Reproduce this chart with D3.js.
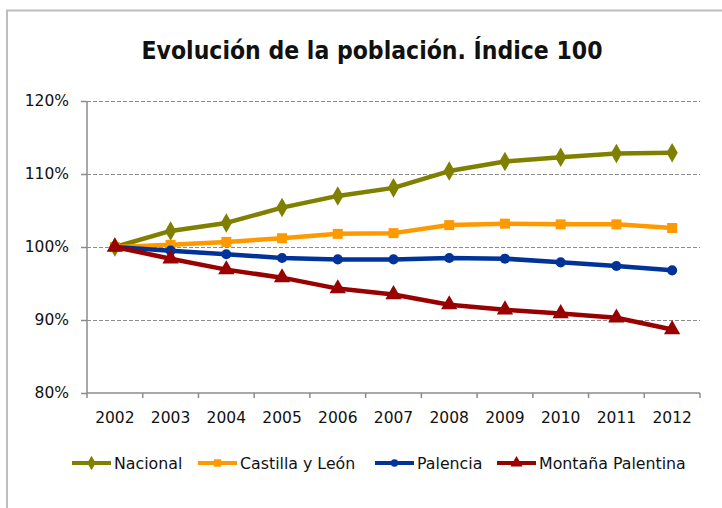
<!DOCTYPE html>
<html>
<head>
<meta charset="utf-8">
<script src="https://cdn.jsdelivr.net/npm/d3@7"></script>
<style>
body { margin:0; background:#fff; }
svg text { font-family: "DejaVu Sans", sans-serif; fill:#111; }
</style>
</head>
<body>
<svg id="chart"></svg>
<script>
var years = ["2002","2003","2004","2005","2006","2007","2008","2009","2010","2011","2012"];
var nacional = [100, 102.2, 103.3, 105.4, 107.0, 108.1, 110.4, 111.7, 112.3, 112.8, 112.9];
var castilla = [100, 100.3, 100.7, 101.2, 101.8, 101.9, 103.0, 103.2, 103.1, 103.1, 102.6];
var palencia = [100, 99.5, 99.0, 98.5, 98.3, 98.3, 98.5, 98.4, 97.9, 97.4, 96.8];
var montana = [100, 98.4, 96.9, 95.8, 94.3, 93.5, 92.1, 91.4, 90.9, 90.3, 88.7];
var yTicks = [80, 90, 100, 110, 120];

var series = [
    {name:"Nacional", values:nacional, color:"#808000", symbol:d3.symbolDiamond, size:110},
    {name:"Castilla y León", values:castilla, color:"#FF9900", symbol:d3.symbolSquare, size:100},
    {name:"Palencia", values:palencia, color:"#003399", symbol:d3.symbolCircle, size:80},
    {name:"Montaña Palentina", values:montana, color:"#990000", symbol:d3.symbolTriangle, size:115}
];

var screen = {width:722, height:508};
var margins = {top:101, left:87, right:22, bottom:115};
var graph = {
    width: screen.width - margins.left - margins.right,
    height: 393 - margins.top
};

var svg = d3.select("#chart")
    .attr("width", screen.width)
    .attr("height", screen.height);

// outer frame
svg.append("rect")
    .attr("x", 7).attr("y", 10.5)
    .attr("width", 730).attr("height", 510)
    .attr("fill", "none")
    .attr("stroke", "#bdbdbd")
    .attr("stroke-width", 2);

svg.append("text")
    .attr("x", 372).attr("y", 59)
    .attr("text-anchor", "middle")
    .style("font-family", "'DejaVu Sans Condensed', 'DejaVu Sans', sans-serif")
    .style("font-size", "24.5px")
    .style("font-weight", "bold")
    .text("Evolución de la población. Índice 100");

var xBand = d3.scaleBand()
    .domain(years)
    .range([0, graph.width]);

var y = d3.scaleLinear()
    .domain([80, 120])
    .range([graph.height, 0]);

var g = svg.append("g")
    .attr("transform", "translate(" + margins.left + "," + margins.top + ")");

// gridlines
g.append("g")
    .selectAll("line")
    .data(yTicks.filter(function(d){ return d > 80; }))
    .enter()
    .append("line")
    .attr("x1", 0).attr("x2", graph.width)
    .attr("y1", function(d){ return Math.round(y(d)) + 0.5; })
    .attr("y2", function(d){ return Math.round(y(d)) + 0.5; })
    .attr("stroke", "#8c8c8c")
    .attr("stroke-dasharray", "4,2");

// y axis
var yAxis = d3.axisLeft(y)
    .tickValues(yTicks)
    .tickSize(6)
    .tickPadding(12)
    .tickFormat(function(d){ return d + "%"; });

var yG = g.append("g").call(yAxis);
yG.selectAll("text").style("font-size", "15.5px").attr("fill", "#111");
yG.selectAll("line, path").attr("stroke", "#8c8c8c").attr("stroke-width", 1.5);
yG.select(".domain").attr("d", "M0," + graph.height + "V0");

// x axis with ticks between categories
var xG = g.append("g")
    .attr("transform", "translate(0," + graph.height + ")")
    .call(d3.axisBottom(xBand).tickSize(0).tickPadding(19));
xG.selectAll("text").style("font-size", "15.5px").attr("fill", "#111");
xG.select(".domain").attr("stroke", "#8c8c8c").attr("stroke-width", 1.5)
    .attr("d", "M0,0H" + graph.width);
xG.selectAll(".sep")
    .data(d3.range(years.length + 1))
    .enter()
    .append("line")
    .classed("sep", true)
    .attr("x1", function(i){ return i * xBand.bandwidth(); })
    .attr("x2", function(i){ return i * xBand.bandwidth(); })
    .attr("y1", 0).attr("y2", 5)
    .attr("stroke", "#8c8c8c")
    .attr("stroke-width", 1.5);

var xPos = function(i){ return xBand(years[i]) + xBand.bandwidth() / 2; };

var line = d3.line()
    .x(function(d, i){ return xPos(i); })
    .y(function(d){ return y(d); });

series.forEach(function(s)
{
    var sg = g.append("g");
    sg.append("path")
        .attr("d", line(s.values))
        .attr("fill", "none")
        .attr("stroke", s.color)
        .attr("stroke-width", 4.5)
        .attr("stroke-linejoin", "round");
    sg.selectAll("path.mark")
        .data(s.values)
        .enter()
        .append("path")
        .classed("mark", true)
        .attr("transform", function(d, i){ return "translate(" + xPos(i) + "," + y(d) + ")"; })
        .attr("d", d3.symbol().type(s.symbol).size(s.size))
        .attr("fill", s.color);
});

// legend
var legendX = [72, 198, 375, 497];
var legend = svg.append("g").attr("transform", "translate(0,463)");
series.forEach(function(s, i)
{
    var lg = legend.append("g").attr("transform", "translate(" + legendX[i] + ",0)");
    lg.append("line")
        .attr("x1", 0).attr("x2", 39)
        .attr("y1", 0).attr("y2", 0)
        .attr("stroke", s.color)
        .attr("stroke-width", 4);
    lg.append("path")
        .attr("transform", "translate(19.5,0)")
        .attr("d", d3.symbol().type(s.symbol).size(s.size * 0.55))
        .attr("fill", s.color);
    lg.append("text")
        .attr("x", 42).attr("y", 6)
        .style("font-size", "15.8px")
        .text(s.name);
});
</script>
</body>
</html>
